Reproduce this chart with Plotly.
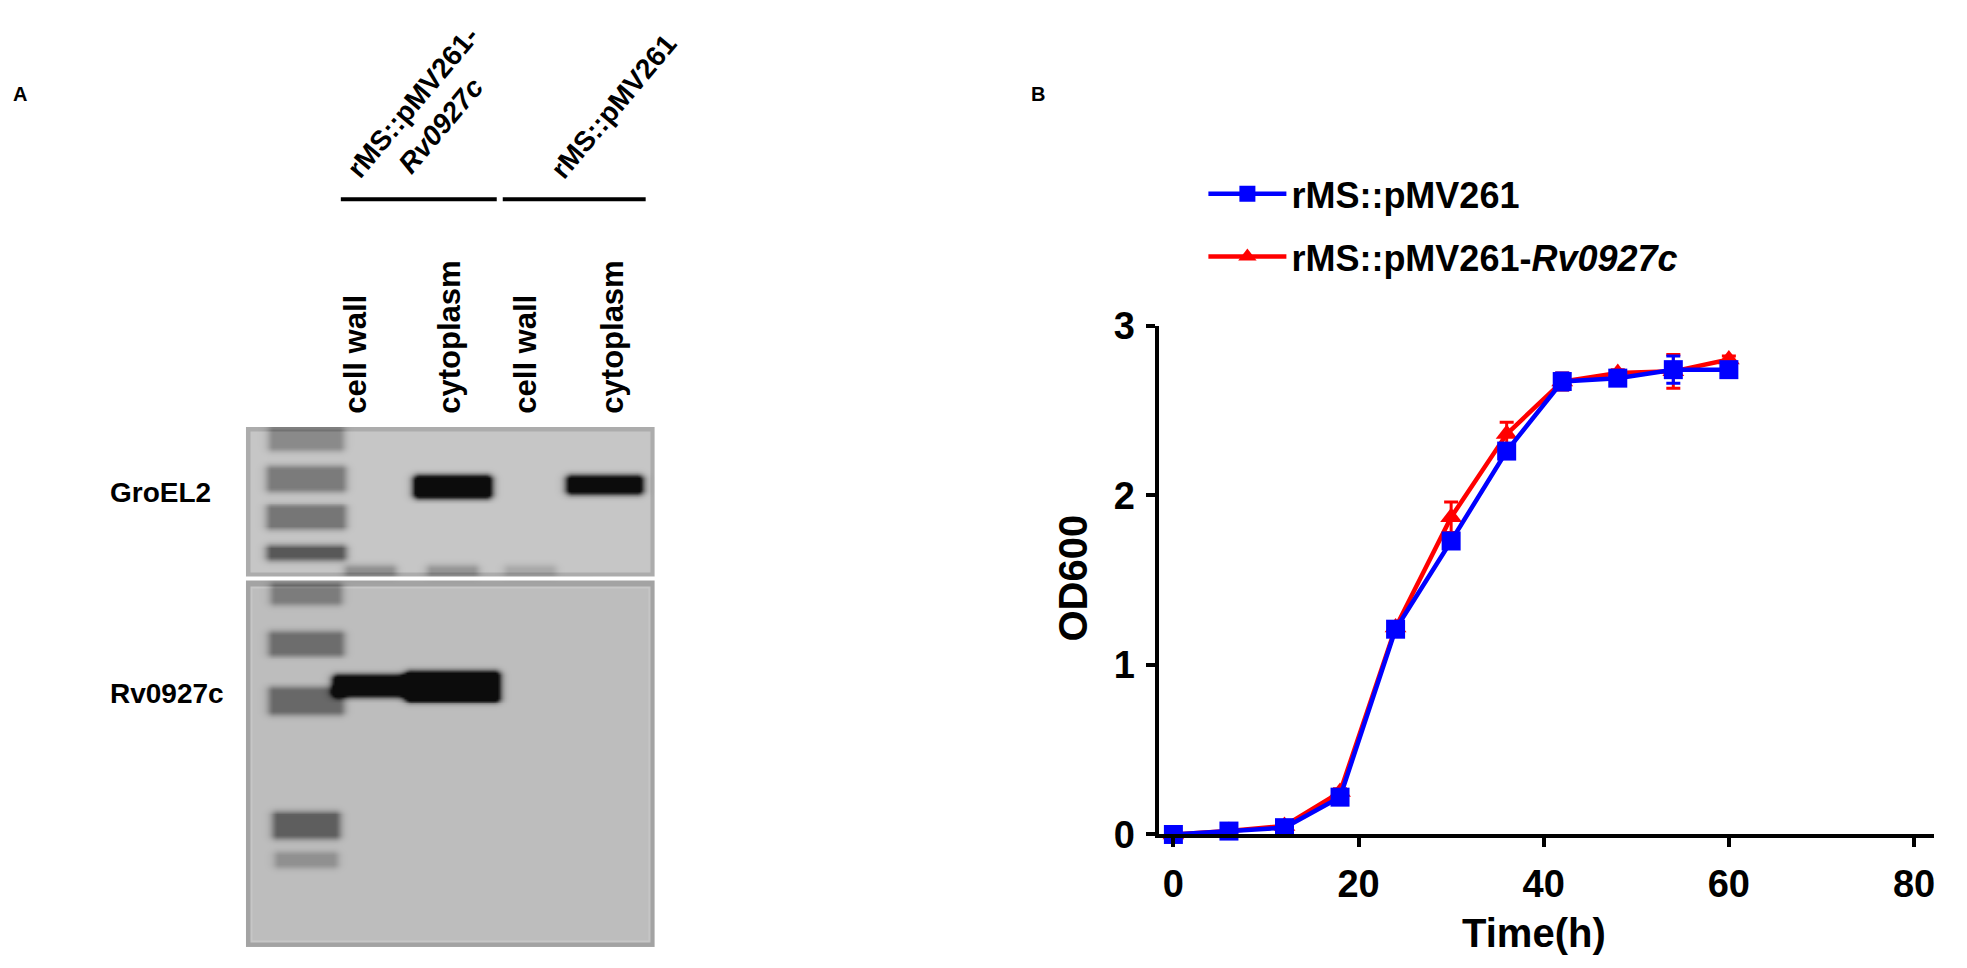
import numpy as np
import plotly.graph_objects as go

# ---------------- data (panel B: growth curve) ----------------
time_h = [0, 6, 12, 18, 24, 30, 36, 42, 48, 54, 60]
od_pmv261 = [0.00, 0.02, 0.04, 0.22, 1.21, 1.73, 2.26, 2.67, 2.69, 2.74, 2.74]
err_pmv261 = [0.00, 0.00, 0.01, 0.02, 0.03, 0.04, 0.04, 0.05, 0.03, 0.08, 0.03]
od_rv0927c = [0.00, 0.02, 0.05, 0.25, 1.22, 1.87, 2.36, 2.67, 2.72, 2.73, 2.80]
err_rv0927c = [0.00, 0.00, 0.01, 0.02, 0.02, 0.09, 0.07, 0.05, 0.02, 0.10, 0.02]
x_ticks = [0, 20, 40, 60, 80]
y_ticks = [0, 1, 2, 3]

# ---------------- data (panel A: western blot) ----------------
lane_labels = ["cell wall", "cytoplasm", "cell wall", "cytoplasm"]
group_labels = ["rMS::pMV261-<br><i>Rv0927c</i>", "rMS::pMV261"]
blot_labels = ["GroEL2", "Rv0927c"]
# bands: lane index (0 = marker), migration (mm from top), darkness, width (lanes), thickness (mm)
band_lane = [0, 0, 0, 0, 0, 0, 0, 0, 0, 2, 4, 1, 2, 1, 2, 3]
band_mig = [1.2, 5.4, 9.4, 13.1, 17.4, 22.6, 28.6, 41.6, 45.2, 6.2, 6.0, 27.0, 27.1, 15.0, 15.0, 15.0]
band_dark = [60, 75, 80, 110, 65, 80, 85, 95, 45, 270, 250, 260, 280, 55, 50, 30]
band_w = [0.8, 0.85, 0.85, 0.85, 0.75, 0.8, 0.8, 0.7, 0.65, 0.82, 0.8, 0.78, 1.02, 0.5, 0.5, 0.5]
band_h = [1.6, 1.8, 1.7, 0.7, 1.4, 1.7, 2.0, 2.0, 0.8, 1.4, 1.0, 1.3, 2.2, 0.3, 0.3, 0.3]

# ---------------- geometry helpers ----------------
W, H = 1967, 968


def px(x):
    return x / W


def py(y):
    return 1 - y / H


FONT = "Liberation Sans"

fig = go.Figure()

# ---------------- blot image (rasterised from the band table) ----------------
lane_x = [0.75, 1.55, 2.58, 3.55, 4.48]
BLOT_W, BLOT_H = 5.11, 54.4
PXX, PXY = 80.0, 10.0  # px per lane unit / per mm
membranes = [(0.0, 15.6, 198.0, False), (16.1, 54.4, 189.0, True)]
xs = np.arange(0, BLOT_W, 0.025) + 0.0125
ys = np.arange(0, BLOT_H, 0.2) + 0.1
X, Y = np.meshgrid(xs, ys)
bg = np.full(X.shape, np.nan)
for y0, y1, base, framed in membranes:
    m = (Y >= y0) & (Y < y1)
    dist = np.minimum.reduce([X * PXX, (BLOT_W - X) * PXX, (Y - y0) * PXY, (y1 - Y) * PXY])
    val = np.full(X.shape, base)
    val = np.where(dist < 5, base - 26, val)
    if framed:
        val = np.where((dist >= 5) & (dist < 7), base + 10, val)
    bg = np.where(m, val, bg)
dark = np.zeros(X.shape)
sx, sy = 0.09, 0.55
for ln, mig, d, w, h in zip(band_lane, band_mig, band_dark, band_w, band_h):
    ddx = np.maximum(0, np.abs(X - lane_x[ln]) - w / 2) / sx
    ddy = np.maximum(0, np.abs(Y - mig) - h / 2) / sy
    dark += d * np.exp(-(ddx ** 2) - (ddy ** 2))
Z = np.where(np.isnan(bg), 255.0, np.clip(bg - dark, 12, 255))

fig.add_trace(go.Heatmap(
    x=xs, y=ys, z=Z, zmin=0, zmax=255, zsmooth="best",
    colorscale=[[0, "black"], [1, "white"]], showscale=False,
    hoverinfo="skip", xaxis="x2", yaxis="y2", showlegend=False,
))

# ---------------- growth curves ----------------
fig.add_trace(go.Scatter(
    x=time_h, y=od_rv0927c, name="<b>rMS::pMV261-<i>Rv0927c</i></b>",
    mode="lines+markers", line=dict(color="#ff0000", width=4.5),
    marker=dict(symbol="triangle-up", size=19, color="#ff0000"),
    error_y=dict(type="data", array=err_rv0927c, color="#ff0000", thickness=3, width=7),
    cliponaxis=False, legendgroup="rv", legendrank=2,
))
fig.add_trace(go.Scatter(
    x=time_h, y=od_pmv261, name="<b>rMS::pMV261</b>",
    mode="lines+markers", line=dict(color="#0000ff", width=4.5),
    marker=dict(symbol="square", size=19, color="#0000ff"),
    error_y=dict(type="data", array=err_pmv261, color="#0000ff", thickness=3, width=7),
    cliponaxis=False, legendgroup="pmv", legendrank=1,
))

axis_common = dict(
    showline=True, linewidth=4, linecolor="black", showgrid=False, zeroline=False,
    ticks="outside", ticklen=9, tickwidth=4, tickcolor="black",
    tickfont=dict(family=FONT, size=38, color="black", weight="bold"),
    ticklabelstandoff=4,
)

fig.update_layout(
    width=W, height=H, autosize=False,
    margin=dict(l=0, r=0, t=0, b=0),
    paper_bgcolor="white", plot_bgcolor="white",
    xaxis=dict(domain=[px(1152), px(1927)], range=[-1.51, 82.16], tickvals=x_ticks,
               anchor="y", **axis_common),
    yaxis=dict(domain=[py(842), py(310)], range=[0, 3], tickvals=y_ticks,
               anchor="x", **axis_common),
    xaxis2=dict(domain=[px(238), px(647)], range=[0, BLOT_W], visible=False, anchor="y2"),
    yaxis2=dict(domain=[py(960), py(416)], range=[BLOT_H, 0], visible=False, anchor="x2"),
    legend=dict(x=px(1196), y=py(141), xanchor="left", yanchor="top",
                traceorder="grouped", tracegroupgap=13, itemwidth=78,
                font=dict(family=FONT, size=36, color="black", weight="bold"),
                bgcolor="rgba(0,0,0,0)"),
    showlegend=True,
)

ann = []
# panel letters
ann.append(dict(x=px(12), y=py(68), text="<b>A</b>", font=dict(family=FONT, size=20, color="black")))
ann.append(dict(x=px(1031), y=py(68), text="<b>B</b>", font=dict(family=FONT, size=20, color="black")))
# axis titles
ann.append(dict(x=px(1066), y=py(574), text="<b>OD600</b>", textangle=-90,
                font=dict(family=FONT, size=40, color="black")))
ann.append(dict(x=px(1527), y=py(945), text="<b>Time(h)</b>",
                font=dict(family=FONT, size=40, color="black")))
# blot row labels
for lab, yy in zip(blot_labels, [485, 695]):
    ann.append(dict(x=px(100), y=py(yy), text="<b>%s</b>" % lab, xanchor="left",
                    font=dict(family=FONT, size=28, color="black")))
# lane labels
for lab, xx in zip(lane_labels, [348, 442, 518, 605]):
    ann.append(dict(x=px(xx), y=py(404), text="<b>%s</b>" % lab, textangle=-90,
                    yanchor="bottom", font=dict(family=FONT, size=31, color="black")))
# group labels
for lab, (xx, yy) in zip(group_labels, [(419, 88), (606, 81)]):
    ann.append(dict(x=px(xx), y=py(yy), text="<b>%s</b>" % lab, textangle=-50, align="center",
                    font=dict(family=FONT, size=28, color="black")))
for a in ann:
    a.setdefault("xref", "paper")
    a.setdefault("yref", "paper")
    a.setdefault("showarrow", False)
    a.setdefault("xanchor", "center")
    a.setdefault("yanchor", "middle")
fig.update_layout(annotations=ann)

# group bars
for x0, x1 in [(333, 489), (495, 638)]:
    fig.add_shape(type="line", xref="paper", yref="paper", x0=px(x0), x1=px(x1),
                  y0=py(178), y1=py(178), line=dict(color="black", width=4))

fig.write_html("out.html")
